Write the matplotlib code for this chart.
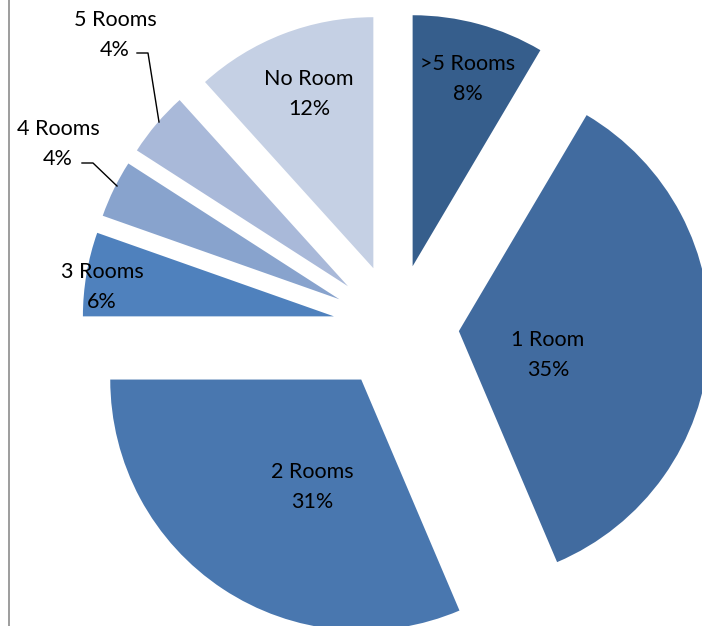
import matplotlib
matplotlib.use("Agg")
import matplotlib.pyplot as plt

categories = [">5 Rooms", "1 Room", "2 Rooms", "3 Rooms", "4 Rooms", "5 Rooms", "No Room"]
shares = [8.5, 35.1, 31.4, 5.4, 3.7, 4.2, 11.7]
pct_labels = ["8%", "35%", "31%", "6%", "4%", "4%", "12%"]

colors = ["#365E8C", "#416B9F", "#4977AF", "#4F81BD", "#88A3CD", "#A9B9D9", "#C5D0E4"]

W, H = 702, 626
fig = plt.figure(figsize=(W / 100, H / 100), dpi=100)
ax = fig.add_axes([0, 0, 1, 1])

cx, cy = 396, H - 327
R = 251
explode = [63] * len(shares)
ax.pie(shares, colors=colors, startangle=90, counterclock=False,
       center=(cx, cy), radius=R, explode=explode,
       wedgeprops=dict(linewidth=0), frame=True)
ax.set_xlim(0, W)
ax.set_ylim(0, H)
ax.set_aspect("equal")
ax.axis("off")

# label positions (pixel coords, y from top)
label_pos = [(468, 79), (548, 355), (312, 487), (102, 287), (58, 144), (115, 35), (309, 94)]
font = dict(family=["Lato", "DejaVu Sans"], fontsize=15.5, color="black")
for cat, pl, (x, y) in zip(categories, pct_labels, label_pos):
    ax.text(x, H - y, f"{cat}\n{pl}", ha="center", va="center",
            linespacing=1.6, **font)

# leader lines for outside labels
ax.plot([82, 93, 117], [H - 163, H - 163, H - 186], color="black", lw=1)
ax.plot([137, 148, 159], [H - 53, H - 53, H - 122], color="black", lw=1)

# left border line
ax.plot([8.5, 8.5], [0, H], color="#8C8C8C", lw=1.2)

fig.savefig("out.png", dpi=100)
